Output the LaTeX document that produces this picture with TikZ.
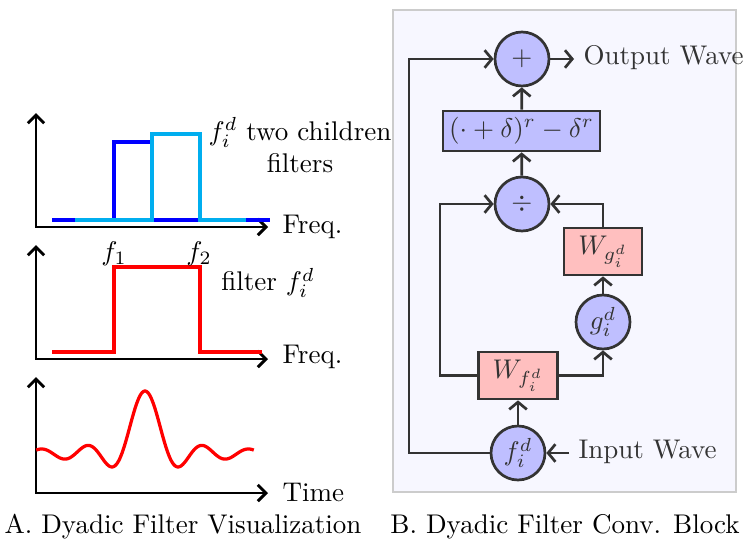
\documentclass[tikz,border=0pt]{standalone}
\usetikzlibrary{arrows.meta}
\definecolor{lblue}{RGB}{0,174,239}
\definecolor{dgray}{RGB}{51,51,51}
\def\u{0.37}
\begin{document}
\begin{tikzpicture}[x=\u pt,y=-\u pt,
  axis/.style={line width=1.1pt,{Straight Barb[length=3pt,width=6pt]}-{Straight Barb[length=3pt,width=6pt]}},
  sig/.style={line width=1.2pt},
  con/.style={draw=dgray,line width=1pt,-{Straight Barb[length=2.7pt,width=6.5pt]}},
  circ/.style={circle,draw=dgray,fill=blue!25,line width=1pt,minimum size=54*\u pt,inner sep=0pt,text=dgray},
  rbox/.style={rectangle,draw=dgray,line width=1pt,inner sep=0pt,text=dgray},
  lbl/.style={text=dgray}]
\useasboundingbox (0,0) rectangle (749,548);
% ---------- Panel A ----------
\draw[axis] (36,113) -- (36,227) -- (268,227);
\node[anchor=west] (fq1) at (273,227) {Freq.};
\draw[sig,blue] (52,220) -- (114,220) -- (114,142) -- (152,142) -- (152,220) -- (270,220);
\draw[sig,lblue] (75,220) -- (152,220) -- (152,134) -- (200,134) -- (200,220) -- (246,220);
\node[align=center] (ch) at (300,145) {$f_i^d$ two children\\filters};

\draw[axis] (36,245) -- (36,359) -- (268,359);
\node[anchor=west] (fq2) at (273,357) {Freq.};
\draw[sig,red] (52,352) -- (114,352) -- (114,267) -- (200,267) -- (200,352) -- (262,352);
\node (f1) at (114,254) {$f_1$};
\node (f2) at (199,254) {$f_2$};
\node (flt) at (268,283) {filter $f_i^d$};

\draw[axis] (36,377) -- (36,493) -- (268,493);
\node[anchor=west] (tm) at (273,492) {Time};
\draw[sig,red,smooth] plot[domain=-14.8:14.8,samples=200,variable=\t]
  ({145+7.35*\t},{453.4-62.4*sin(deg(\t))/\t});
\node (capA) at (183,527) {A. Dyadic Filter Visualization};
% ---------- Panel B ----------
\draw[fill=blue!3,draw=gray!40,line width=0.8pt] (393,10) rectangle (736,492);
\node[circ] (plus) at (522,59) {$+$};
\node[rbox,fill=blue!25,minimum width=157*\u pt,minimum height=40*\u pt] (pw) at (521.5,131) {$(\cdot+\delta)^r-\delta^r$};
\node[circ] (div) at (522,204) {$\div$};
\node[rbox,fill=red!25,minimum width=78*\u pt,minimum height=47*\u pt] (Wg) at (603,251.5) {$W_{g_i^d}$};
\node[circ] (g) at (603,322) {$g_i^d$};
\node[rbox,fill=red!25,minimum width=79*\u pt,minimum height=47*\u pt] (Wf) at (518,375.5) {$W_{f_i^d}$};
\node[circ] (f) at (518,453) {$f_i^d$};
\node[lbl,anchor=west] (out) at (574,58) {Output Wave};
\node[lbl,anchor=west] (in) at (569,452) {Input Wave};
\coordinate (b1) at (440,0);
\coordinate (b2) at (409,0);
\draw[con] (f) -- (Wf);
\draw[con] (Wf.east) -| (g.south);
\draw[con] (g) -- (Wg);
\draw[con] (Wg.north) |- (div.east);
\draw[con] (Wf.west) -- (Wf.west -| b1) |- (div.west);
\draw[con] (div) -- (pw);
\draw[con] (pw) -- (plus);
\draw[con] (f.west) -- (f.west -| b2) |- (plus.west);
\draw[con] (plus.east) -- (plus.east -| out.west);
\draw[con] (f.east -| in.west) -- (f.east);
\node (capB) at (565,527) {B. Dyadic Filter Conv. Block};
\end{tikzpicture}
\end{document}
